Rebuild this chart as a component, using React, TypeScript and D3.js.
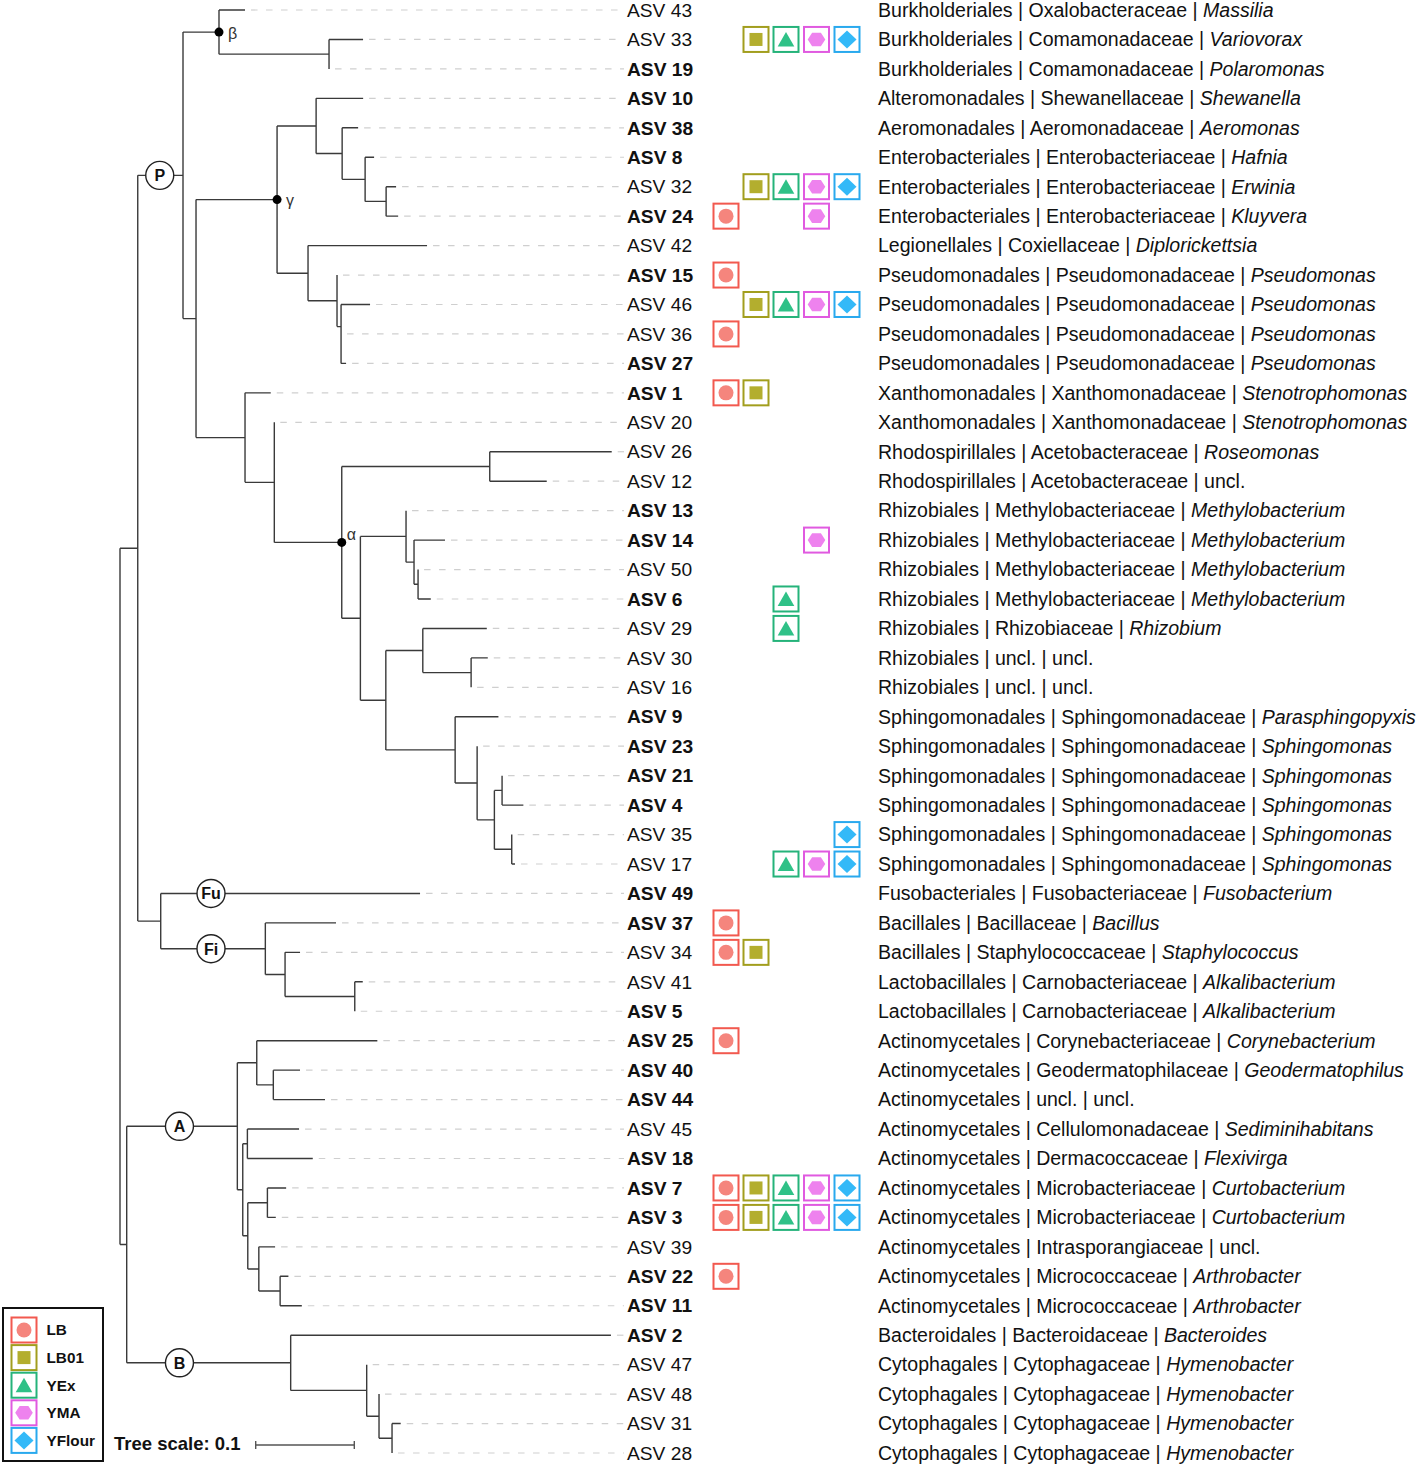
import React, { useMemo } from 'react';
import * as d3 from 'd3';

// ---------- DATA ----------
// Phylogeny (branch lengths in substitutions/site)
const NEWICK = `(
 (
  (
   (ASV43:0.0264,(ASV33:0.0345,ASV19:0):0.1116)beta:0.0365,
   (
    (
     (ASV10:0.0477,(ASV38:0.0162,(ASV8:0.0091,(ASV32:0.0101,ASV24:0.0122):0.0213):0.0233):0.0264):0.0396,
     (ASV42:0.1207,(ASV15:0,(ASV46:0.0294,(ASV36:0,ASV27:0.0051):0):0.0041):0.0294):0.0314
    )gamma:0.0822,
    (ASV1:0.0261,(ASV20:0,(
       (ASV26:0.1237,ASV12:0.0578):0.1501,
       (
        (ASV13:0,(ASV14:0.0314,(ASV50:0,ASV6:0.0129):0.0041):0.0081):0.0463,
        (
         (ASV29:0.0649,(ASV30:0.0169,ASV16:0):0.0490):0.0375,
         (ASV9:0.0439,(ASV23:0,((ASV21:0,ASV4:0.0216):0.0078,(ASV35:0,ASV17:0.0033):0.0176):0.0175):0.0223):0.0703
        ):0.0258
       ):0.0189
      )alpha:0.0684
    ):0.0297):0.0497
   ):0.0132
  )P:0.0459,
  (ASV49:0.2630,(ASV37:0.0717,(ASV34:0.0152,(ASV41:0.0081,ASV5:0):0.0707):0.0200)Fi:0.1061):0.0233
 ):0.0180,
 (
  (
   (ASV25:0.1223,(ASV40:0.0271,ASV44:0.0524):0.0168):0.0197,
   (
    (ASV45:0.0524,ASV18:0.0663):0.0047,
    ((ASV7:0.0190,ASV3:0.0085):0.0199,(ASV39:0.0165,(ASV22:0.0084,ASV11:0.0220):0.0216):0.0112):0.0051
   ):0.0055
  )A:0.1122,
  (ASV2:0.3248,(ASV47:0,(ASV48:0,(ASV31:0.0088,ASV28:0):0.0132):0.0125):0.0771)B:0.1663
 ):0.0068
);`;

const BOLD_ASVS = ['ASV19','ASV10','ASV38','ASV8','ASV24','ASV15','ASV27','ASV1','ASV13','ASV14','ASV6','ASV9','ASV23','ASV21','ASV4','ASV49','ASV37','ASV5','ASV25','ASV40','ASV44','ASV18','ASV7','ASV3','ASV22','ASV11','ASV2'];

// taxonomy in leaf order (top to bottom)
const TAX_ORDER = ['Burkholderiales','Burkholderiales','Burkholderiales','Alteromonadales','Aeromonadales','Enterobacteriales','Enterobacteriales','Enterobacteriales','Legionellales','Pseudomonadales','Pseudomonadales','Pseudomonadales','Pseudomonadales','Xanthomonadales','Xanthomonadales','Rhodospirillales','Rhodospirillales','Rhizobiales','Rhizobiales','Rhizobiales','Rhizobiales','Rhizobiales','Rhizobiales','Rhizobiales','Sphingomonadales','Sphingomonadales','Sphingomonadales','Sphingomonadales','Sphingomonadales','Sphingomonadales','Fusobacteriales','Bacillales','Bacillales','Lactobacillales','Lactobacillales','Actinomycetales','Actinomycetales','Actinomycetales','Actinomycetales','Actinomycetales','Actinomycetales','Actinomycetales','Actinomycetales','Actinomycetales','Actinomycetales','Bacteroidales','Cytophagales','Cytophagales','Cytophagales','Cytophagales'];
const TAX_FAMILY = ['Oxalobacteraceae','Comamonadaceae','Comamonadaceae','Shewanellaceae','Aeromonadaceae','Enterobacteriaceae','Enterobacteriaceae','Enterobacteriaceae','Coxiellaceae','Pseudomonadaceae','Pseudomonadaceae','Pseudomonadaceae','Pseudomonadaceae','Xanthomonadaceae','Xanthomonadaceae','Acetobacteraceae','Acetobacteraceae','Methylobacteriaceae','Methylobacteriaceae','Methylobacteriaceae','Methylobacteriaceae','Rhizobiaceae','uncl.','uncl.','Sphingomonadaceae','Sphingomonadaceae','Sphingomonadaceae','Sphingomonadaceae','Sphingomonadaceae','Sphingomonadaceae','Fusobacteriaceae','Bacillaceae','Staphylococcaceae','Carnobacteriaceae','Carnobacteriaceae','Corynebacteriaceae','Geodermatophilaceae','uncl.','Cellulomonadaceae','Dermacoccaceae','Microbacteriaceae','Microbacteriaceae','Intrasporangiaceae','Micrococcaceae','Micrococcaceae','Bacteroidaceae','Cytophagaceae','Cytophagaceae','Cytophagaceae','Cytophagaceae'];
const TAX_GENUS = ['Massilia','Variovorax','Polaromonas','Shewanella','Aeromonas','Hafnia','Erwinia','Kluyvera','Diplorickettsia','Pseudomonas','Pseudomonas','Pseudomonas','Pseudomonas','Stenotrophomonas','Stenotrophomonas','Roseomonas','uncl.','Methylobacterium','Methylobacterium','Methylobacterium','Methylobacterium','Rhizobium','uncl.','uncl.','Parasphingopyxis','Sphingomonas','Sphingomonas','Sphingomonas','Sphingomonas','Sphingomonas','Fusobacterium','Bacillus','Staphylococcus','Alkalibacterium','Alkalibacterium','Corynebacterium','Geodermatophilus','uncl.','Sediminihabitans','Flexivirga','Curtobacterium','Curtobacterium','uncl.','Arthrobacter','Arthrobacter','Bacteroides','Hymenobacter','Hymenobacter','Hymenobacter','Hymenobacter'];

// isolation media
const MEDIA = ['LB', 'LB01', 'YEx', 'YMA', 'YFlour'];
const IN_LB = ['ASV24','ASV15','ASV36','ASV1','ASV37','ASV34','ASV25','ASV7','ASV3','ASV22'];
const IN_LB01 = ['ASV33','ASV32','ASV46','ASV1','ASV34','ASV7','ASV3'];
const IN_YEX = ['ASV33','ASV32','ASV46','ASV6','ASV29','ASV17','ASV7','ASV3'];
const IN_YMA = ['ASV33','ASV32','ASV24','ASV46','ASV14','ASV17','ASV7','ASV3'];
const IN_YFLOUR = ['ASV33','ASV32','ASV46','ASV35','ASV17','ASV7','ASV3'];
const MEDIA_MEMBERS = [IN_LB, IN_LB01, IN_YEX, IN_YMA, IN_YFLOUR];

// clade labels (circle) and marked nodes (dot + greek)
const CLADE_CIRCLES = [['P', 'P'], ['Fu', 'ASV49'], ['Fi', 'Fi'], ['A', 'A'], ['B', 'B']];
const MARKED_NODES = [['beta', 'β'], ['gamma', 'γ'], ['alpha', 'α']];
const SCALE_BAR = 0.1;

// ---------- STYLE / LAYOUT ----------
const W = 1418, H = 1467;
const FONT = '"Liberation Sans", Arial, Helvetica, sans-serif';
const TREE_X0 = 120;
const PX_PER_UNIT = 986;
const Y_TOP = 10, Y_BOT = 1453;
const LABEL_X = 627;
const DASH_END = 624;
const MEDIA_X = [726, 756, 786, 816.5, 847];
const TAX_X = 878;
const BOX = 25;
const CIRCLE_OFFSET: Record<string, number> = { P: 0.0223, Fu: 0.051, Fi: 0.051, A: 0.0535, B: 0.0535 };
const MEDIA_STROKE = ['#f2594f', '#a29e1e', '#25b37a', '#e05ae0', '#29a9ee'];
const MEDIA_FILL = ['#f5857d', '#b3ae2e', '#2fc187', '#ee82ee', '#33b9f8'];

type PNode = { name: string; length: number; children?: PNode[] };

function parseNewick(src: string): PNode {
  const s = src.replace(/\s+/g, '');
  let i = 0;
  function node(): PNode {
    const n: PNode = { name: '', length: 0 };
    if (s[i] === '(') {
      i++;
      n.children = [];
      for (;;) {
        n.children.push(node());
        if (s[i] === ',') { i++; continue; }
        if (s[i] === ')') { i++; break; }
        break;
      }
    }
    let name = '';
    while (i < s.length && !',():;'.includes(s[i])) name += s[i++];
    n.name = name;
    if (s[i] === ':') {
      i++;
      let num = '';
      while (i < s.length && !',();'.includes(s[i])) num += s[i++];
      n.length = parseFloat(num);
    }
    return n;
  }
  return node();
}

function Shape({ k }: { k: number }) {
  const f = MEDIA_FILL[k];
  if (k === 0) return <circle r={7.5} fill={f} />;
  if (k === 1) return <rect x={-6.5} y={-6.5} width={13} height={13} fill={f} />;
  if (k === 2) return <polygon points="0,-7.5 8.3,7 -8.3,7" fill={f} />;
  if (k === 3) return <polygon points="-8.8,0 -4.4,-6.8 4.4,-6.8 8.8,0 4.4,6.8 -4.4,6.8" fill={f} />;
  return <polygon points="0,-9 9.5,0 0,9 -9.5,0" fill={f} />;
}

function MediaBox({ k, cx, cy }: { k: number; cx: number; cy: number }) {
  return (
    <g transform={`translate(${cx},${cy})`}>
      <rect x={-BOX / 2} y={-BOX / 2} width={BOX} height={BOX} fill="white" stroke={MEDIA_STROKE[k]} strokeWidth={2} />
      <Shape k={k} />
    </g>
  );
}

export default function App() {
  const model = useMemo(() => {
    const root = d3.hierarchy<PNode>(parseNewick(NEWICK));
    const dist = new Map<any, number>();
    root.each((n: any) => {
      dist.set(n, n.parent ? dist.get(n.parent)! + n.data.length : 0);
    });
    const leaves = root.leaves();
    const x = d3.scaleLinear().domain([0, 0.5]).range([TREE_X0, TREE_X0 + PX_PER_UNIT * 0.5]);
    const y = d3.scalePoint<string>().domain(leaves.map((l) => l.data.name)).range([Y_TOP, Y_BOT]);
    const ypos = new Map<any, number>();
    root.eachAfter((n: any) => {
      if (!n.children) ypos.set(n, y(n.data.name)!);
      else ypos.set(n, (ypos.get(n.children[0])! + ypos.get(n.children[n.children.length - 1])!) / 2);
    });
    const path = d3.path();
    root.each((n: any) => {
      const nx = x(dist.get(n)!);
      const ny = ypos.get(n)!;
      if (n.parent) {
        path.moveTo(x(dist.get(n.parent)!), ny);
        path.lineTo(nx, ny);
      }
      if (n.children) {
        path.moveTo(nx, ypos.get(n.children[0])!);
        path.lineTo(nx, ypos.get(n.children[n.children.length - 1])!);
      }
    });
    const byName = new Map<string, any>();
    root.each((n: any) => { if (n.data.name) byName.set(n.data.name, n); });
    return { root, leaves, x, y, dist, ypos, d: path.toString(), byName };
  }, []);

  const { leaves, x, dist, ypos, d, byName } = model;

  return (
    <div style={{ position: 'absolute', left: 0, top: 0 }}>
      <svg width={W} height={H} style={{ display: 'block', background: 'white' }} fontFamily={FONT}>
        {/* dashed leaders */}
        {leaves.map((l: any) => {
          const tx = x(dist.get(l)!);
          if (DASH_END - tx < 8) return null;
          return (
            <line key={'d' + l.data.name} x1={tx + 6} x2={DASH_END} y1={ypos.get(l)} y2={ypos.get(l)}
              stroke="#cfcfcf" strokeWidth={1.2} strokeDasharray="6.5 8.5" />
          );
        })}
        <path d={d} fill="none" stroke="#3a3a3a" strokeWidth={1.4} />

        {/* marked nodes */}
        {MARKED_NODES.map(([id, sym]) => {
          const n = byName.get(id);
          const cx = x(dist.get(n)!);
          const cy = ypos.get(n)!;
          const isAlpha = id === 'alpha';
          return (
            <g key={id}>
              <circle cx={cx} cy={cy} r={4.5} fill="black" />
              <text x={cx + (isAlpha ? 5 : 9)} y={cy + (isAlpha ? -8 : 1)} fontSize={16} fill="#333" dominantBaseline="central">{sym}</text>
            </g>
          );
        })}

        {/* clade circles */}
        {CLADE_CIRCLES.map(([lab, id]) => {
          const n = byName.get(id);
          const cx = x(dist.get(n.parent)! + CIRCLE_OFFSET[lab]);
          const cy = ypos.get(n)!;
          return (
            <g key={lab}>
              <circle cx={cx} cy={cy} r={14} fill="white" stroke="#222" strokeWidth={1.4} />
              <text x={cx} y={cy + 0.5} fontSize={16} fontWeight="bold" textAnchor="middle" dominantBaseline="central" fill="#111">{lab}</text>
            </g>
          );
        })}

        {/* leaf labels, media, taxonomy */}
        {leaves.map((l: any, i: number) => {
          const name = l.data.name as string;
          const cy = ypos.get(l)!;
          const bold = BOLD_ASVS.includes(name);
          const genus = TAX_GENUS[i];
          return (
            <g key={name}>
              <text x={LABEL_X} y={cy} dy="0.35em" fontSize={19.2} fontWeight={bold ? 'bold' : 'normal'} fill="#111">
                {name.replace('ASV', 'ASV ')}
              </text>
              {MEDIA.map((m, k) => MEDIA_MEMBERS[k].includes(name) ? (
                <MediaBox key={m} k={k} cx={MEDIA_X[k]} cy={cy} />
              ) : null)}
              <text x={TAX_X} y={cy} dy="0.35em" fontSize={19.55} fill="#111">
                {`${TAX_ORDER[i]} | ${TAX_FAMILY[i]} | `}
                <tspan fontStyle={genus === 'uncl.' ? 'normal' : 'italic'}>{genus}</tspan>
              </text>
            </g>
          );
        })}

        {/* tree scale */}
        <text x={114} y={1444} dy="0.35em" fontSize={18.5} fontWeight="bold" fill="#111">Tree scale: {SCALE_BAR}</text>
        {(() => {
          const x1 = x(0) + 135.7, x2 = x1 + (x(SCALE_BAR) - x(0));
          return (
            <g stroke="#555" strokeWidth={1.4}>
              <line x1={x1} x2={x2} y1={1445} y2={1445} />
              <line x1={x1} x2={x1} y1={1441} y2={1449} />
              <line x1={x2} x2={x2} y1={1441} y2={1449} />
            </g>
          );
        })()}

        {/* legend */}
        <rect x={3} y={1308} width={100} height={153} fill="white" stroke="#111" strokeWidth={2} />
        {MEDIA.map((m, k) => {
          const cy = 1330 + k * 27.6;
          return (
            <g key={'lg' + m}>
              <MediaBox k={k} cx={24} cy={cy} />
              <text x={46.5} y={cy} dy="0.35em" fontSize={15.3} fontWeight="bold" fill="#111">{m}</text>
            </g>
          );
        })}
      </svg>
    </div>
  );
}
